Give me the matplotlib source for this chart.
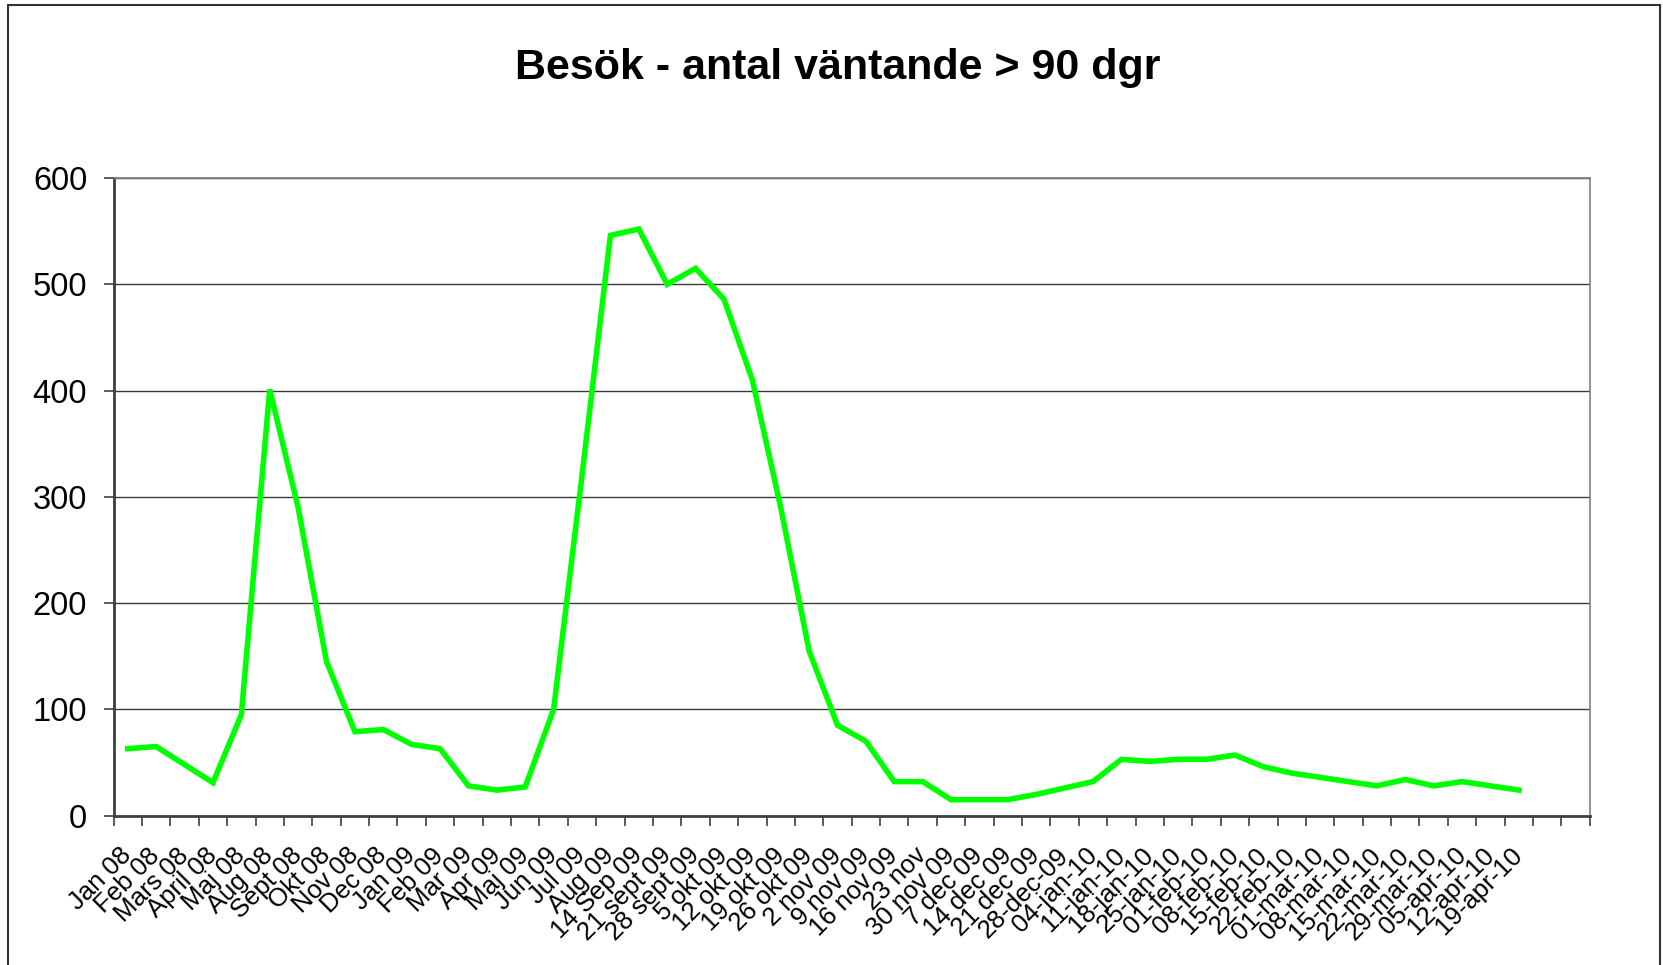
import numpy as np
import matplotlib.pyplot as plt
from matplotlib.patches import Rectangle

# data
labels = ["Jan 08", "Feb 08", "Mars 08", "April 08", "Maj 08", "Aug 08", "Sept 08",
          "Okt 08", "Nov 08", "Dec 08", "Jan 09", "Feb 09", "Mar 09", "Apr 09",
          "Maj 09", "Jun 09", "Jul 09", "Aug 09", "14 Sep 09", "21 sept 09",
          "28 sept 09", "5 okt 09", "12 okt 09", "19 okt 09", "26 okt 09",
          "2 nov 09", "9 nov 09", "16 nov 09", "23 nov", "30 nov 09", "7 dec 09",
          "14 dec 09", "21 dec 09", "28-dec-09", "04-jan-10", "11-jan-10",
          "18-jan-10", "25-jan-10", "01-feb-10", "08-feb-10", "15-feb-10",
          "22-feb-10", "01-mar-10", "08-mar-10", "15-mar-10", "22-mar-10",
          "29-mar-10", "05-apr-10", "12-apr-10", "19-apr-10"]
values = [63, 65, 48, 31, 95, 401, 290, 145, 79, 81, 67, 63, 28, 24, 27, 100,
          320, 546, 552, 500, 515, 486, 410, 290, 155, 85, 70, 32, 32, 15, 15,
          15, 20, 26, 32, 53, 51, 53, 53, 57, 46, 40, 36, 32, 28, 34, 28, 32,
          28, 24]
n_slots = 52  # axis has two empty categories at the end

plt.rcParams['font.family'] = ['Liberation Sans', 'DejaVu Sans']

fig = plt.figure(figsize=(16.63, 9.65), dpi=100)
ax = fig.add_axes([0.0683, 0.1548, 0.8877, 0.6607])

x = np.arange(len(values))
ax.plot(x, values, color='#00FF00', lw=4.0, solid_joinstyle='miter')

ax.set_xlim(-0.5, n_slots - 0.5)
ax.set_ylim(0, 600)
ax.set_yticks(range(0, 601, 100))
ax.yaxis.grid(True, color='#3a3a3a', lw=1.0)
ax.set_axisbelow(True)

ax.set_xticks(x)
ax.set_xticklabels(labels, rotation=45, ha='right', va='center',
                   rotation_mode='anchor', fontsize=18.5)
ax.tick_params(axis='x', which='major', length=0, pad=26)
ax.set_xticks(np.arange(-0.5, n_slots, 1), minor=True)
ax.tick_params(axis='x', which='minor', length=7, width=1.2, color='#404040')
ax.tick_params(axis='y', length=7, width=1.2, color='#404040', labelsize=23.5, pad=12)

for s in ['top', 'right']:
    ax.spines[s].set_color('#808080')
    ax.spines[s].set_linewidth(1.2)
for s in ['left', 'bottom']:
    ax.spines[s].set_color('#404040')
    ax.spines[s].set_linewidth(2)

fig.text(0.504, 0.93, "Besök - antal väntande > 90 dgr", ha='center', va='center',
         fontsize=31, fontweight='bold')

# chart area border
fig.patches.append(Rectangle((8 / 1663, -0.05), 1652 / 1663, 1.05 - 5 / 965,
                             transform=fig.transFigure, fill=False,
                             edgecolor='#333333', lw=1.5))

fig.savefig('out.png', dpi=100)
